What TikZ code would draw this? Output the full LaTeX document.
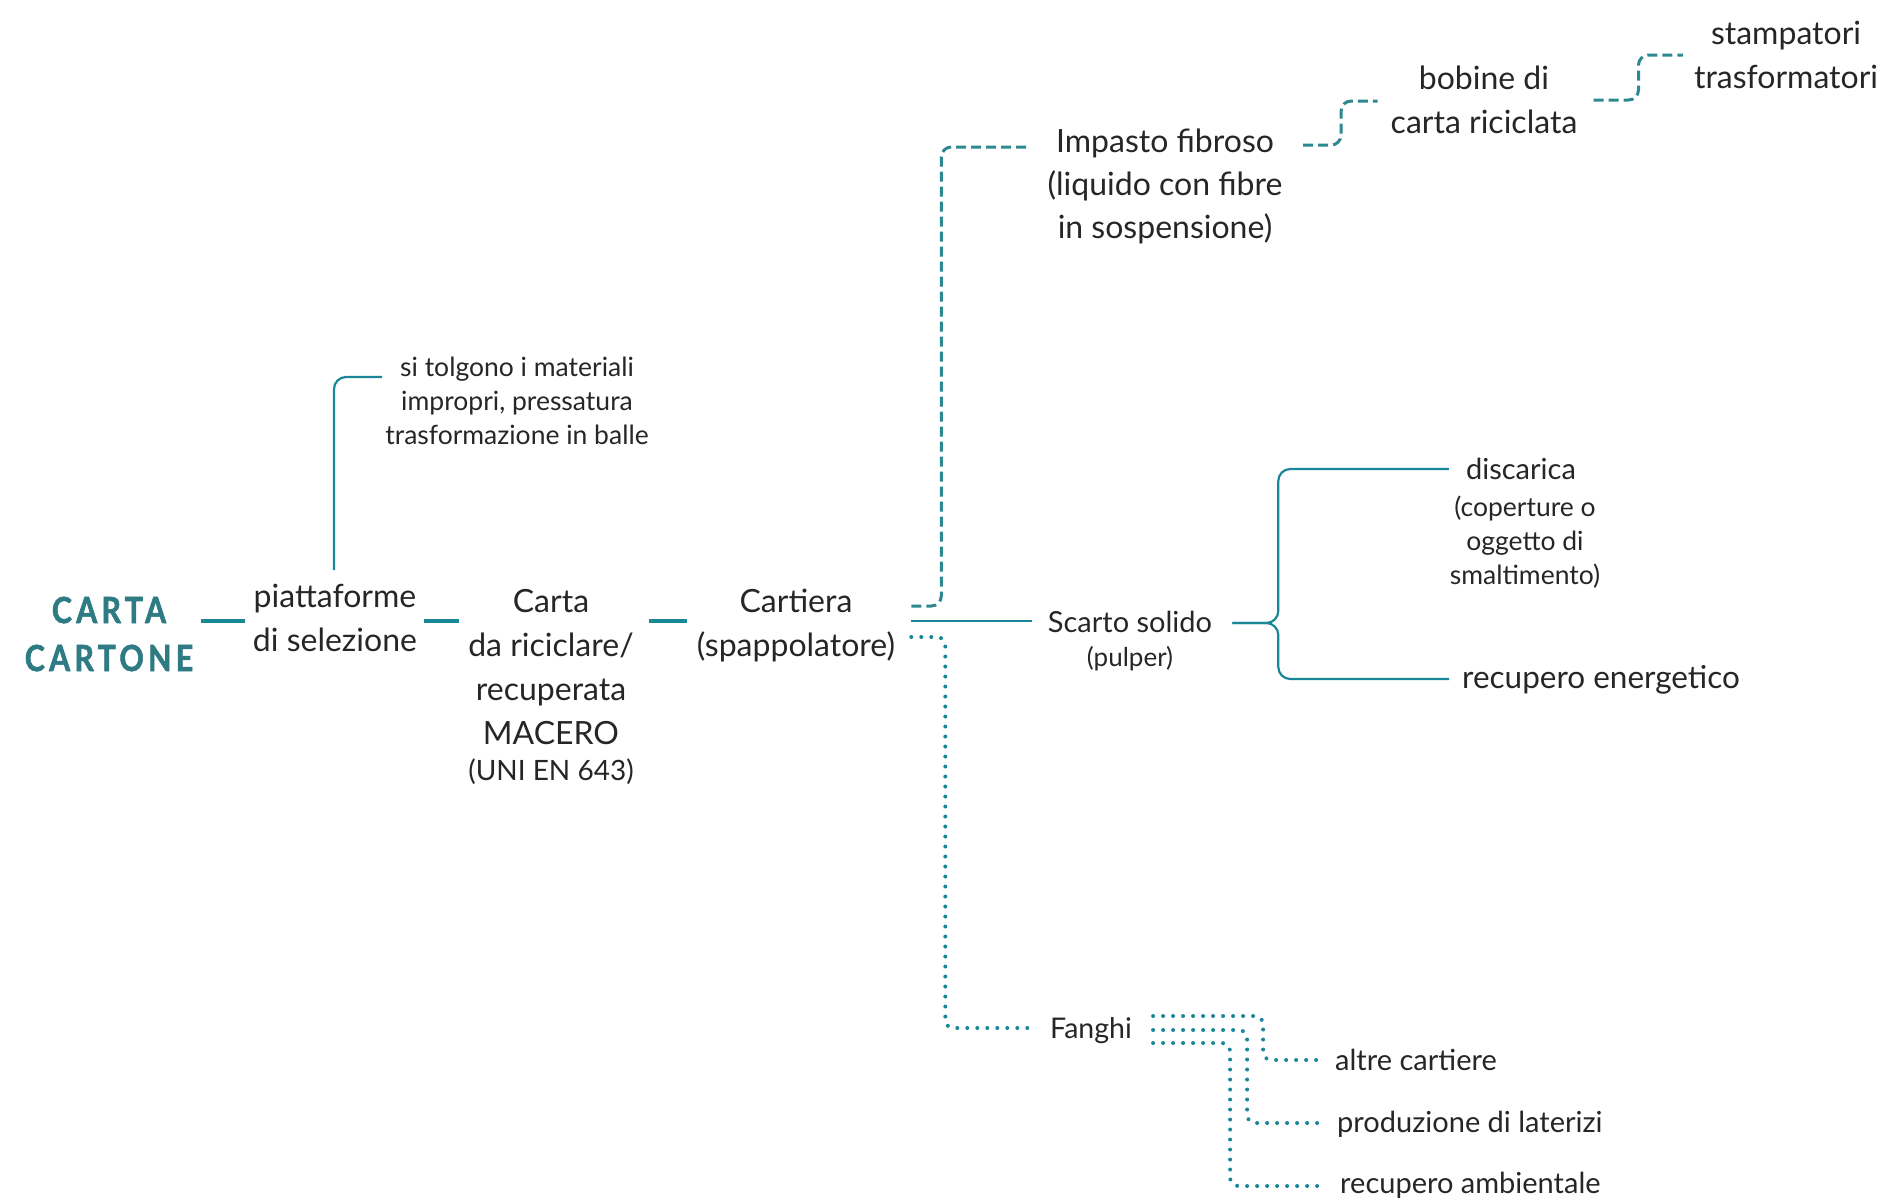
\documentclass[tikz,border=0pt]{standalone}
\usepackage{fontspec}
\setmainfont{Lato}
\newfontfamily\cartafont{Lato}[FakeStretch=0.84,LetterSpace=12,BoldFeatures={FakeBold=1.6}]
\usetikzlibrary{calc}
\definecolor{ink}{HTML}{262626}
\definecolor{teal1}{HTML}{1A8799}
\definecolor{tealdash}{HTML}{2C8891}
\definecolor{tealtitle}{HTML}{2F7B84}
\tikzset{
  lbl/.style={inner sep=0pt, text=ink, align=center},
  bigt/.style={lbl, font=\fontsize{32}{44}\selectfont},
  midt/.style={lbl, font=\fontsize{29}{35}\selectfont},
  smallt/.style={lbl, font=\fontsize{26.5}{34}\selectfont},
  thickc/.style={draw=teal1, line width=4.5pt},
  solidc/.style={draw=teal1, line width=2.2pt, rounded corners=12pt},
  dashc/.style={draw=tealdash, line width=3pt, dash pattern=on 10pt off 5pt, rounded corners=10pt},
  dotc/.style={draw=teal1, line width=4pt, line cap=round, dash pattern=on 0pt off 10pt, rounded corners=8pt},
}
\begin{document}
\begin{tikzpicture}[x=1pt,y=-1pt]
\useasboundingbox (0,0) rectangle (1881,1202);

% main chain
\node[lbl, text=tealtitle, font=\cartafont\bfseries\fontsize{36}{48}\selectfont] (cc) at (109,634) {CARTA\\CARTONE};
\node[bigt] (piatt) at (335,618) {piattaforme\\di selezione};
\node[bigt] (macero) at (551,667) {Carta\\da riciclare/\\recuperata\\MACERO};
\node[lbl, font=\fontsize{28}{34}\selectfont, anchor=base] (uni) at (551,780) {(UNI EN 643)};
\node[bigt] (cartiera) at (796,626) {Cartiera\\(spappolatore)};

% upper branch
\node[bigt, anchor=base] (impasto) at (1165,152) {Impasto fibroso};
\node[bigt, font=\fontsize{32}{43}\selectfont] (impastosub) at (1165,207.5) {(liquido con fibre\\in sospensione)};
\node[bigt] (bobine) at (1484,100) {bobine di\\carta riciclata};
\node[bigt] (stamp) at (1786,55) {stampatori\\trasformatori};

% middle branch
\node[midt, anchor=base] (scarto) at (1130,632) {Scarto solido};
\node[lbl, font=\fontsize{26}{32}\selectfont, anchor=base] (pulper) at (1130,666) {(pulper)};
\node[midt, anchor=base] (discarica) at (1521,479) {discarica};
\node[smallt] (discsub) at (1525,542.5) {(coperture o\\oggetto di\\smaltimento)};
\node[lbl, font=\fontsize{31.5}{40}\selectfont, anchor=base west] (recen) at (1462,688) {recupero energetico};

% lower branch
\node[lbl, font=\fontsize{28.5}{34}\selectfont, anchor=base] (fanghi) at (1091,1038) {Fanghi};
\node[midt, anchor=base west] (altre) at (1335,1070) {altre cartiere};
\node[midt, anchor=base west] (laterizi) at (1337,1132) {produzione di laterizi};
\node[midt, anchor=base west] (ambientale) at (1340,1193) {recupero ambientale};

% note on the sorting platforms
\node[smallt] (note) at (517,401) {si tolgono i materiali\\impropri, pressatura\\trasformazione in balle};

% short links of the main chain
\draw[thickc] ($(cc.east |- piatt.west)+(8,3)$) -- ($(piatt.west)+(-8,3)$);
\draw[thickc] ($(piatt.east)+(7,3)$) -- ($(macero.west |- piatt.east)+(-9,3)$);
\draw[thickc] ($(macero.east |- cartiera.west)+(15,-5)$) -- ($(cartiera.west)+(-10,-5)$);

\draw[solidc] ($(piatt.north)+(-1,-14)$) |- ($(note.west)+(-3,-24)$);

% fibre pulp route
\draw[dashc] ($(cartiera.east)+(16,-20)$) -- ++(30,0) |- ($(impasto.base west)+(-27,-5)$);
\draw[dashc] ($(impasto.base east)+(29,-7)$) -- ++(38,0) |- ($(bobine.west)+(-13,1)$);
\draw[dashc] ($(bobine.east)+(16,0)$) -- ++(45,0) |- ($(stamp.west)+(-11,0)$);

% solid waste route
\draw[solidc] ($(cartiera.east)+(16,-5)$) -- ($(scarto.base west)+(-16,-11)$);
\draw[solidc] ($(scarto.base east)+(20,-9)$) -- ++(46,0) |- ($(discarica.base west)+(-17,-10)$);
\draw[solidc] ($(scarto.base east)+(20,-9)$) -- ++(46,0) |- ($(recen.base west)+(-13,-9)$);

% sludge route
\draw[dotc] ($(cartiera.east)+(16,11)$) -- ++(34,0) |- ($(fanghi.base west)+(-18,-10)$);
\draw[dotc] ($(fanghi.base east)+(21,-22)$) -- ++(110,0) |- ($(altre.base west)+(-12,-10)$);
\draw[dotc] ($(fanghi.base east)+(21,-8)$) -- ++(94,0) |- ($(laterizi.base west)+(-19,-9)$);
\draw[dotc] ($(fanghi.base east)+(21,5)$) -- ++(77,0) |- ($(ambientale.base west)+(-13,-7)$);
\end{tikzpicture}
\end{document}
